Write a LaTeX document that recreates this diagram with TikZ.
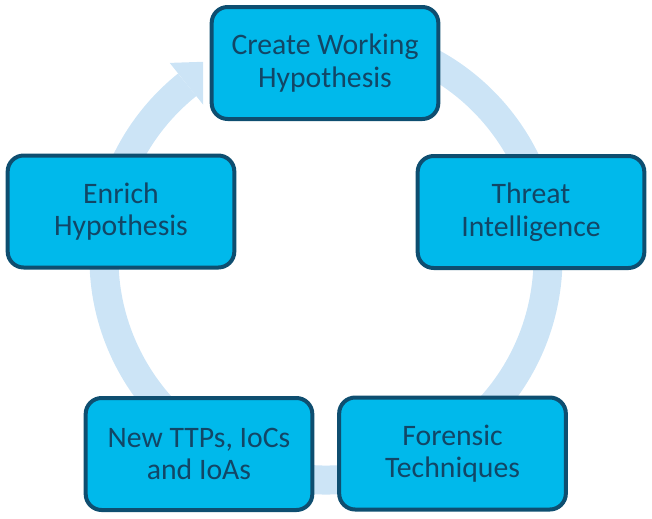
\documentclass[tikz,border=0pt]{standalone}
\usepackage{fontspec}
\setmainfont{Carlito}
\usepackage{xcolor}

\definecolor{ringblue}{RGB}{204,228,246}
\definecolor{boxfill}{RGB}{0,185,235}
\definecolor{boxline}{RGB}{14,78,112}
\definecolor{boxtext}{RGB}{18,70,102}

\begin{document}
\begin{tikzpicture}[x=0.75pt,y=0.75pt,yscale=-1,xscale=1,
    stagebox/.style={draw=boxline, fill=boxfill, line width=3pt, rounded corners=12pt,
        minimum width=170pt, minimum height=84pt, align=center, text=boxtext,
        font=\fontsize{22.3}{24.5}\selectfont, inner sep=0.75pt}]
            \useasboundingbox (0,0) rectangle (652,518); %set diagram size 652 x 518
            
            \coordinate (ctr) at (326,258);
            %Shape: Block Arc [id:ring] 
            \draw [ringblue, line width=21.75pt] ([shift={(-80:222)}]ctr) arc [start angle=-80, end angle=231.3, radius=222];
            %Shape: Arrow head [id:head] 
            \begin{scope}
            \clip (0,0) rectangle (203,518);
            \fill [ringblue] ([shift={(231.3:250)}]ctr) -- ([shift={(242.5:222)}]ctr) -- ([shift={(231.3:194)}]ctr) -- cycle;
            \end{scope}
            
            % Text Node
            \node (hypo) at (325,63) [stagebox] {Create Working\\Hypothesis};
            % Text Node
            \node (intel) at (531,212) [stagebox] {Threat\\Intelligence};
            % Text Node
            \node (foren) at (452.5,453.5) [stagebox] {Forensic\\Techniques};
            % Text Node
            \node (ttps) at (199,454) [stagebox] {New TTPs, IoCs\\and IoAs};
            % Text Node
            \node (enrich) at (121,211.5) [stagebox] {Enrich\\Hypothesis};
            
\end{tikzpicture}
\end{document}
